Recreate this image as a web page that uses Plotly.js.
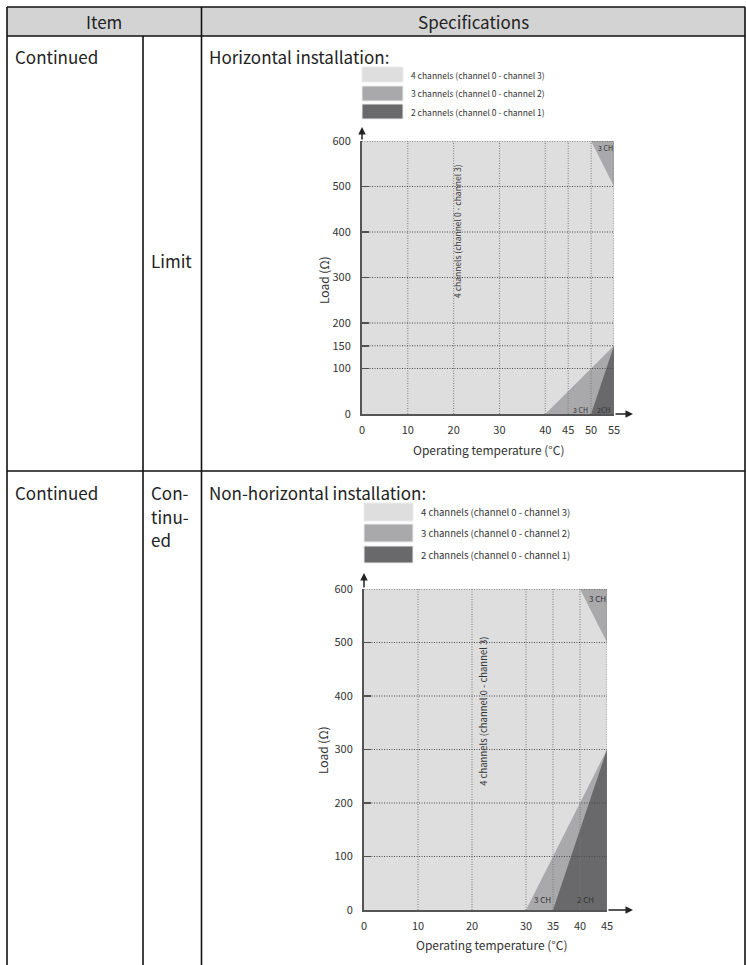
<!DOCTYPE html>
<html><head><meta charset="utf-8">
<script src="https://cdn.plot.ly/plotly-3.0.1.min.js"></script>
<style>html,body{margin:0;padding:0;background:#fff}#c{width:746px;height:965px}</style>
</head><body><div id="c"></div>
<script>
// ---------- data ----------
const legendLabels = ['4 channels (channel 0 - channel 3)','3 channels (channel 0 - channel 2)','2 channels (channel 0 - channel 1)'];
const xTicksH = [0,10,20,30,40,45,50,55];
const yTicksH = [0,100,150,200,300,400,500,600];
const xTicksN = [0,10,20,30,35,40,45];
const yTicksN = [0,100,200,300,400,500,600];
// horizontal installation regions
const h3TopX = [50,55,55], h3TopY = [600,600,500];
const h3BotX = [40,55,55], h3BotY = [0,150,0];
const h2X = [50,55,55], h2Y = [0,150,0];
// non-horizontal installation regions
const n3TopX = [40,45,45], n3TopY = [600,600,500];
const n3BotX = [30,45,45], n3BotY = [0,300,0];
const n2X = [35,45,45], n2Y = [0,300,0];

// ---------- styling ----------
const W = 746, H = 965;
const PX = p => p / W, PY = p => 1 - p / H;
const FONT = 'Noto Sans CJK SC, Noto Sans, sans-serif';
const C4 = '#dedede', C3 = '#a9a9ab', C2 = '#69696b';
const TXT = '#222';

function poly(x, y, color, xa, ya) {
  return {x: x.concat([x[0]]), y: y.concat([y[0]]), xaxis: xa, yaxis: ya, type: 'scatter', mode: 'lines',
    fill: 'toself', fillcolor: color, line: {width: 0, color: color}, hoverinfo: 'skip', showlegend: false};
}
const traces = [
  poly(h3BotX, h3BotY, C3, 'x', 'y'), poly(h2X, h2Y, C2, 'x', 'y'), poly(h3TopX, h3TopY, C3, 'x', 'y'),
  poly(n3BotX, n3BotY, C3, 'x2', 'y2'), poly(n2X, n2Y, C2, 'x2', 'y2'), poly(n3TopX, n3TopY, C3, 'x2', 'y2')
];

function xax(dom, ticks, range) {
  return {domain: dom, range: range, tickvals: ticks, ticktext: ticks.map(String), showgrid: false,
    zeroline: false, showline: true, linecolor: '#555', linewidth: 2,
    ticks: '', tickfont: {family: FONT, size: 11, color: '#333'}, fixedrange: true, ticklabelstandoff: 5};
}
function yax(dom, ticks, range, anchor) {
  return {domain: dom, range: range, tickvals: ticks, ticktext: ticks.map(String), showgrid: false,
    zeroline: false, showline: true, linecolor: '#555', linewidth: 2,
    ticks: 'inside', ticklen: 7, tickcolor: '#555', tickwidth: 1.5,
    tickfont: {family: FONT, size: 11, color: '#333'}, fixedrange: true, anchor: anchor, ticklabelstandoff: 7};
}

const shapes = [];
const ann = [];
// table
const L = 7, R = 745, T = 7, HB = 36, C1 = 143, C2x = 201.5, ROW = 471, B = 965;
shapes.push({type: 'rect', xref: 'paper', yref: 'paper', x0: PX(L), x1: PX(R), y0: PY(T), y1: PY(HB), fillcolor: '#d3d3d3', line: {width: 0}, layer: 'below'});
const lw = {color: '#111', width: 1.6};
function hl(y, x0, x1) { shapes.push({type: 'line', xref: 'paper', yref: 'paper', x0: PX(x0), x1: PX(x1), y0: PY(y), y1: PY(y), line: lw}); }
function vl(x, y0, y1) { shapes.push({type: 'line', xref: 'paper', yref: 'paper', x0: PX(x), x1: PX(x), y0: PY(y0), y1: PY(y1), line: lw}); }
hl(T, L, R); hl(HB, L, R); hl(ROW, L, R);
vl(L, T, B); vl(R, T, B); vl(C2x, T, B); vl(C1, HB, B);

// grid (dotted, drawn over the regions)
function grid(xt, yt, xr, yr, xmax, ymax) {
  xt.filter(v => v > 0).forEach(v => shapes.push({type: 'line', xref: xr, yref: yr, x0: v, x1: v, y0: 0, y1: ymax,
    line: {color: '#7a7a7a', width: 1, dash: '1px,1.5px'}, layer: 'above'}));
  yt.filter(v => v > 0).forEach(v => shapes.push({type: 'line', xref: xr, yref: yr, x0: 0, x1: xmax, y0: v, y1: v,
    line: {color: '#4a4a4a', width: 1, dash: '1px,1.5px'}, layer: 'above'}));
}
grid(xTicksH, yTicksH, 'x', 'y', 55, 600);
grid(xTicksN, yTicksN, 'x2', 'y2', 45, 600);

function txt(s, x, y, size, opts) {
  ann.push(Object.assign({text: s, xref: 'paper', yref: 'paper', x: PX(x), y: PY(y), showarrow: false,
    xanchor: 'left', yanchor: 'middle', font: {family: FONT, size: size, color: TXT}}, opts || {}));
}
txt('Item', 104, 21, 17, {xanchor: 'center'});
txt('Specifications', 473, 21, 17, {xanchor: 'center'});
txt('Continued', 13, 56, 17);
txt('Limit', 149, 260, 17);
txt('Horizontal installation:', 207, 56, 17);
txt('Continued', 13, 493, 17);
txt('Con-', 149, 493, 17);
txt('tinu-', 149, 516, 17);
txt('ed', 149, 539, 17);
txt('Non-horizontal installation:', 207, 493, 17);

// legends
function legend(boxX0, boxX1, rows, tx, size) {
  const cols = [C4, C3, C2];
  rows.forEach((r, i) => {
    shapes.push({type: 'rect', xref: 'paper', yref: 'paper', x0: PX(boxX0), x1: PX(boxX1), y0: PY(r[0]), y1: PY(r[1]),
      fillcolor: cols[i], line: {width: 1, color: '#ececec'}});
    txt(legendLabels[i], tx, (r[0] + r[1]) / 2, size, {font: {family: FONT, size: size, color: '#333'}});
  });
}
legend(362, 403, [[67, 82], [86, 101], [104, 119]], 409, 8.5);
legend(364, 413, [[503, 521], [524, 542], [546, 563]], 419, 9.5);

// chart pixel geometry
const g1 = {x0: 362, x1: 614, yb: 414, yt: 141, xtip: 633, ytip: 127};
const g2 = {x0: 364, x1: 607, yb: 910, yt: 589, xtip: 633, ytip: 573};

function arrows(g) {
  ann.push({xref: 'paper', yref: 'paper', x: PX(g.xtip), y: PY(g.yb), ax: -(g.xtip - g.x1), ay: 0, text: '', showarrow: true,
    arrowhead: 2, arrowsize: 1, arrowwidth: 1.5, arrowcolor: '#222', standoff: 0});
  ann.push({xref: 'paper', yref: 'paper', x: PX(g.x0), y: PY(g.ytip), ax: 0, ay: (g.yt - g.ytip), text: '', showarrow: true,
    arrowhead: 2, arrowsize: 1, arrowwidth: 1.5, arrowcolor: '#222', standoff: 0});
}
arrows(g1); arrows(g2);

// titles
txt('Operating temperature (°C)', 488, 449, 12, {xanchor: 'center', font: {family: FONT, size: 12, color: '#333'}});
txt('Load (Ω)', 324, 280, 12, {xanchor: 'center', textangle: -90, font: {family: FONT, size: 12, color: '#333'}});
txt('Operating temperature (°C)', 491, 944, 12, {xanchor: 'center', font: {family: FONT, size: 12, color: '#333'}});
txt('Load (Ω)', 322, 750, 12, {xanchor: 'center', textangle: -90, font: {family: FONT, size: 12, color: '#333'}});

// in-plot labels
function dl(s, x, y, xr, yr, size, angle) {
  ann.push({text: s, xref: xr, yref: yr, x: x, y: y, showarrow: false, textangle: angle || 0,
    font: {family: FONT, size: size, color: '#333'}});
}
dl('4 channels (channel 0 - channel 3)', 20.7, 402, 'x', 'y', 8.5, -90);
dl('3 CH', 47.6, 8, 'x', 'y', 7);
dl('2CH', 52.8, 8, 'x', 'y', 7);
dl('3 CH', 53.2, 585, 'x', 'y', 7);
dl('4 channels (channel 0 - channel 3)', 22, 372, 'x2', 'y2', 9.5, -90);
dl('3 CH', 33.1, 20, 'x2', 'y2', 8);
dl('2 CH', 41.1, 20, 'x2', 'y2', 8);
dl('3 CH', 43.2, 583, 'x2', 'y2', 8);

const layout = {
  width: W, height: H, margin: {l: 0, r: 0, t: 0, b: 0}, paper_bgcolor: '#fff', plot_bgcolor: C4,
  showlegend: false,
  xaxis: Object.assign(xax([PX(g1.x0), PX(g1.x1)], xTicksH, [0, 55]), {anchor: 'y'}),
  yaxis: yax([PY(g1.yb), PY(g1.yt)], yTicksH, [0, 600], 'x'),
  xaxis2: Object.assign(xax([PX(g2.x0), PX(g2.x1)], xTicksN, [0, 45]), {anchor: 'y2'}),
  yaxis2: yax([PY(g2.yb), PY(g2.yt)], yTicksN, [0, 600], 'x2'),
  shapes: shapes, annotations: ann
};
Plotly.newPlot('c', traces, layout, {staticPlot: true, displayModeBar: false});
</script></body></html>
